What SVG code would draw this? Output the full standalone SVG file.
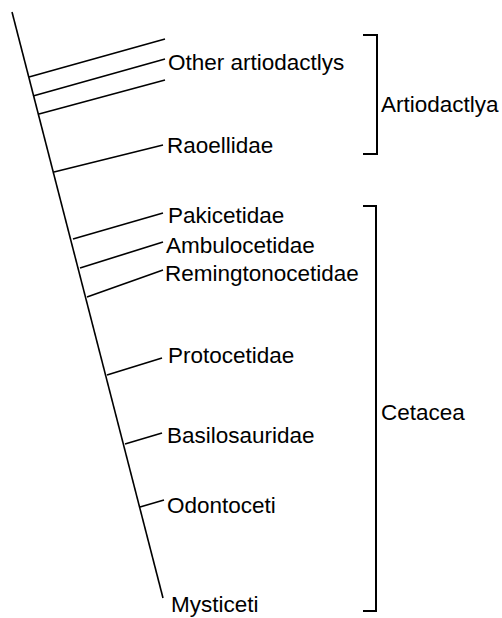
<svg xmlns="http://www.w3.org/2000/svg" width="502" height="618" viewBox="0 0 502 618">
<style>
.ln{stroke:#000;stroke-width:1.6;fill:none;stroke-linecap:butt}
.br{stroke:#000;stroke-width:2;fill:none}
text{font-family:"Liberation Sans",Arial,sans-serif;font-size:22.5px;fill:#000}
</style>
<rect width="502" height="618" fill="#fff"/>
<g id="connectors">
<line class="ln" x1="12" y1="12" x2="163" y2="598"/>
<line class="ln" x1="29" y1="77" x2="165" y2="39"/>
<line class="ln" x1="33" y1="96" x2="165" y2="59"/>
<line class="ln" x1="39" y1="114" x2="165" y2="80"/>
<line class="ln" x1="54" y1="172" x2="163" y2="145"/>
<line class="ln" x1="73" y1="239" x2="163" y2="213"/>
<line class="ln" x1="80" y1="268" x2="163" y2="242"/>
<line class="ln" x1="87" y1="297" x2="163" y2="270"/>
<line class="ln" x1="107" y1="375" x2="162" y2="358"/>
<line class="ln" x1="125" y1="444" x2="162" y2="433"/>
<line class="ln" x1="140" y1="507" x2="164" y2="500"/>
</g>
<g id="other-artiodactlys"><text x="168" y="70">Other artiodactlys</text></g>
<g id="raoellidae"><text x="167" y="153">Raoellidae</text></g>
<g id="pakicetidae"><text x="168" y="223">Pakicetidae</text></g>
<g id="ambulocetidae"><text x="166" y="253">Ambulocetidae</text></g>
<g id="remingtonocetidae"><text x="165" y="281">Remingtonocetidae</text></g>
<g id="protocetidae"><text x="168" y="363">Protocetidae</text></g>
<g id="basilosauridae"><text x="167" y="443">Basilosauridae</text></g>
<g id="odontoceti"><text x="167" y="513">Odontoceti</text></g>
<g id="mysticeti"><text x="171" y="612">Mysticeti</text></g>
<g id="artiodactyla">
<polyline class="br" points="363,35 377,35 377,154 363,154"/>
<text x="381" y="112">Artiodactlya</text>
</g>
<g id="cetacea">
<polyline class="br" points="363,206 376,206 376,611 363,611"/>
<text x="381" y="420">Cetacea</text>
</g>
</svg>
